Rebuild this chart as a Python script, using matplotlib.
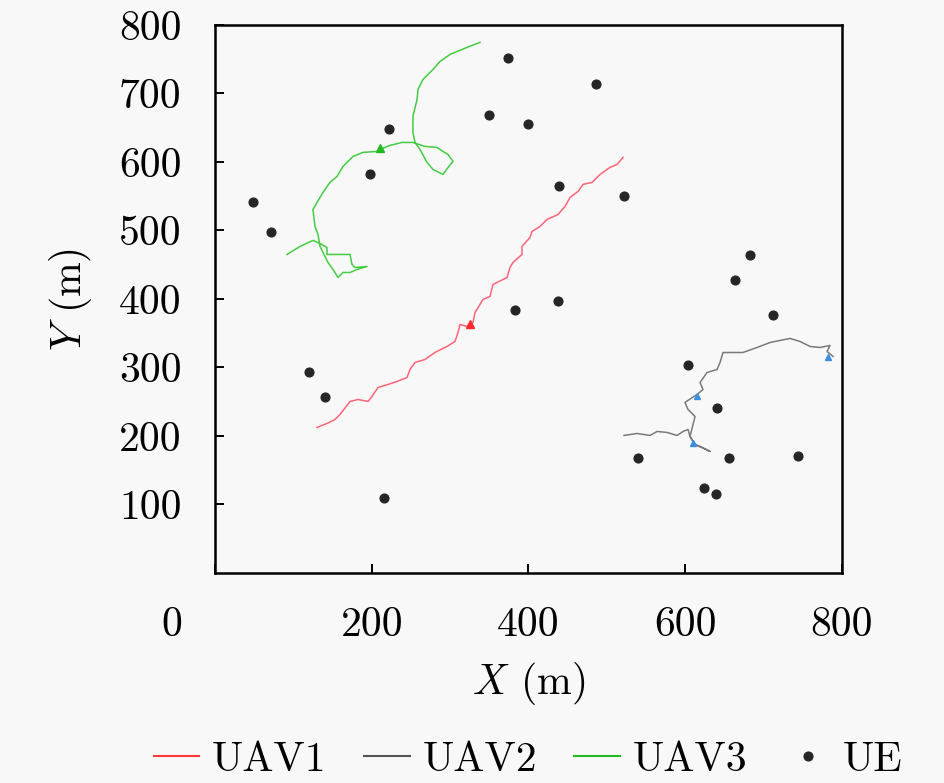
import matplotlib
matplotlib.use('Agg')
import matplotlib.pyplot as plt
import matplotlib.transforms as mtransforms

plt.rcParams['font.family'] = 'serif'
plt.rcParams['font.serif'] = ['cmr10']
plt.rcParams['mathtext.fontset'] = 'cm'
plt.rcParams['axes.formatter.use_mathtext'] = True

# trajectories (m)
uav1_x = [130.1, 142.9, 153.1, 159.5, 172.3, 182.5, 195.2, 200.3, 208.0, 220.7, 232.2, 245.0,
          248.8, 255.2, 268.0, 280.7, 296.0, 306.2, 310.1, 312.6, 321.6, 329.2, 331.8, 342.0,
          350.9, 354.7, 372.6, 376.4, 380.2, 391.7, 391.7, 401.9, 404.5, 414.7, 423.6, 437.7,
          446.6, 453.0, 463.2, 469.6, 481.1, 491.3, 504.0, 513.0, 520.6]
uav1_y = [212.4, 218.3, 224.1, 231.4, 250.4, 253.3, 250.4, 257.7, 270.8, 275.2, 279.6, 285.4,
          297.1, 307.3, 311.7, 322.0, 330.7, 338.0, 351.1, 362.8, 359.9, 365.7, 380.3, 399.3,
          403.7, 421.2, 431.4, 446.0, 453.3, 465.0, 476.7, 489.8, 498.6, 505.9, 516.1, 523.4,
          535.1, 548.3, 557.0, 567.3, 570.2, 581.8, 592.1, 596.4, 606.7]

uav2_x = [521.9, 538.5, 555.1, 564.0, 576.8, 589.5, 597.2, 603.5, 606.1, 612.5, 621.4, 631.6,
          621.4, 612.5, 606.1, 612.5, 603.5, 599.7, 615.0, 622.7, 618.9, 627.8, 640.6, 644.4,
          648.2, 673.7, 691.6, 708.2, 733.7, 746.5, 759.2, 772.0, 784.8, 780.9, 788.6]
uav2_y = [200.8, 203.7, 200.8, 206.6, 205.2, 200.8, 206.6, 209.5, 199.3, 187.6, 183.2, 177.4,
          183.2, 187.6, 199.3, 228.5, 238.7, 249.0, 260.6, 267.9, 278.1, 292.7, 297.1, 307.3,
          321.9, 321.9, 329.2, 336.5, 342.4, 338.0, 330.7, 329.2, 332.2, 323.4, 316.1]

uav3_x = [91.9, 108.5, 125.0, 134.0, 142.9, 142.9, 172.3, 174.8, 178.6, 194.0, 181.2, 172.3,
          163.3, 157.0, 150.6, 144.2, 134.0, 131.4, 127.6, 125.0, 130.2, 137.8, 146.7, 155.7,
          163.3, 176.1, 188.8, 206.7, 210.5, 223.3, 238.6, 252.6, 267.9, 283.3, 290.9, 297.3,
          303.7, 297.3, 290.9, 278.2, 270.5, 261.6, 255.2, 252.6, 252.6, 257.8, 259.0, 265.4,
          278.2, 287.1, 299.9, 321.6, 338.1]
uav3_y = [465.0, 476.7, 485.5, 481.1, 475.2, 465.0, 465.0, 450.4, 446.0, 447.5, 443.1, 438.7,
          438.7, 431.4, 443.1, 453.3, 476.7, 494.2, 505.9, 530.7, 540.9, 555.5, 570.2, 578.9,
          593.5, 608.1, 614.0, 615.4, 618.3, 624.2, 628.5, 628.5, 622.7, 621.2, 615.4, 611.0,
          600.8, 592.0, 581.8, 589.1, 599.3, 618.3, 628.5, 643.1, 666.5, 691.3, 705.9, 720.5,
          735.1, 746.8, 757.0, 767.3, 774.6]

# markers along the paths
mark1 = ([325.4], [364.0])
mark2 = ([615.0, 610.0, 782.0], [258.0, 190.0, 316.0])
mark3 = ([210.5], [620.0])

# users
ue_x = [373.9, 486.2, 349.6, 399.4, 222.0, 197.8, 48.5, 71.5, 438.9, 521.9, 682.7, 663.6,
        712.0, 382.8, 437.7, 119.9, 140.4, 215.6, 603.6, 640.6, 539.7, 655.9, 743.9, 624.0, 639.3]
ue_y = [751.2, 713.2, 668.0, 654.8, 647.5, 581.8, 541.0, 497.2, 564.3, 549.7, 463.6, 427.1,
        376.0, 383.3, 396.4, 293.1, 256.2, 108.8, 303.0, 240.2, 168.6, 167.2, 170.1, 123.4, 114.6]

xticks = [0, 200, 400, 600, 800]
yticks = [100, 200, 300, 400, 500, 600, 700, 800]

bg = '#f8f8f8'
fig = plt.figure(figsize=(9.45, 7.83), dpi=100, facecolor=bg)
ax = fig.add_axes([0.2275, 0.2682, 0.6635, 0.6999], facecolor=bg)

ax.plot(uav1_x, uav1_y, color='#ff6478', lw=1.1, label='UAV1')
ax.plot(uav2_x, uav2_y, color='#7a7a7a', lw=1.1, label='UAV2')
ax.plot(uav3_x, uav3_y, color='#44cc44', lw=1.1, label='UAV3')
ax.plot(*mark1, ls='none', marker='^', ms=6, color='#ff2a2a')
ax.plot(*mark2, ls='none', marker='^', ms=5, color='#3a8fe0')
ax.plot(*mark3, ls='none', marker='^', ms=6, color='#22bb22')
ax.plot(ue_x, ue_y, ls='none', marker='o', ms=6.3, color='#262626', label='UE')

ax.set_xlim(0, 800)
ax.set_ylim(0, 800)
ax.set_xticks(xticks)
ax.set_xticklabels([str(v) for v in xticks])
ax.set_yticks(yticks)
ax.set_yticklabels([str(v) for v in yticks])
ax.tick_params(direction='in', length=6.5, width=1.4, labelsize=30, pad=24,
               top=False, right=False)
for s in ax.spines.values():
    s.set_linewidth(1.8)

# shift the "0" label left, like the original
lab0 = ax.get_xticklabels()[0]
lab0.set_transform(lab0.get_transform() +
                   mtransforms.ScaledTranslation(-0.43, 0, fig.dpi_scale_trans))

ax.set_xlabel('$X$ (m)', fontsize=30, labelpad=12)
ax.set_ylabel('$Y$ (m)', fontsize=30, labelpad=18)

leg = fig.legend(loc='center', bbox_to_anchor=(0.559, 0.029), ncol=4, frameon=False,
                 fontsize=30, handlelength=1.1, handletextpad=0.3, columnspacing=0.9)
for h in leg.legend_handles[:3]:
    h.set_linewidth(1.5)
leg.legend_handles[0].set_color('#ff3b3b')
leg.legend_handles[1].set_color('#555555')
leg.legend_handles[2].set_color('#22bb22')

fig.savefig('out.png', dpi=100, facecolor=bg)
